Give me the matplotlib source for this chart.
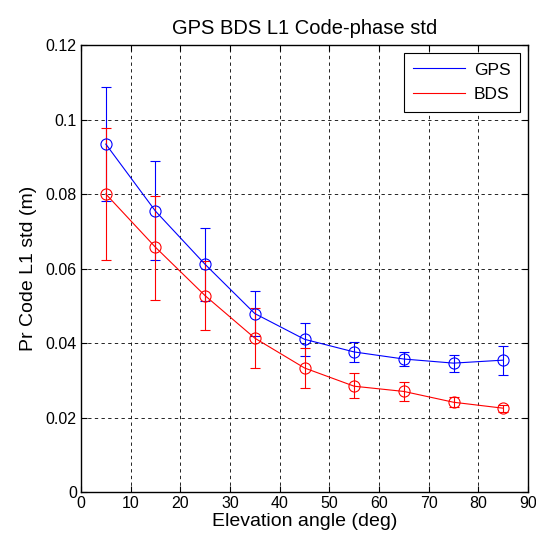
import matplotlib.pyplot as plt
from matplotlib.lines import Line2D

plt.rcParams['font.family'] = ['Liberation Sans', 'DejaVu Sans']

elev = [5, 15, 25, 35, 45, 55, 65, 75, 85]

gps_std = [0.0934, 0.0754, 0.0611, 0.0479, 0.0410, 0.0376, 0.0357, 0.0346, 0.0354]
gps_lo = [0.0780, 0.0622, 0.0514, 0.0419, 0.0364, 0.0348, 0.0339, 0.0323, 0.0315]
gps_hi = [0.1087, 0.0888, 0.0710, 0.0539, 0.0453, 0.0403, 0.0376, 0.0367, 0.0392]

bds_std = [0.0800, 0.0657, 0.0527, 0.0413, 0.0333, 0.0284, 0.0270, 0.0241, 0.0225]
bds_lo = [0.0624, 0.0515, 0.0435, 0.0333, 0.0280, 0.0252, 0.0244, 0.0227, 0.0216]
bds_hi = [0.0977, 0.0796, 0.0619, 0.0495, 0.0387, 0.0319, 0.0294, 0.0254, 0.0234]


def err(mid, lo, hi):
    return [[m - l for m, l in zip(mid, lo)], [h - m for m, h in zip(mid, hi)]]


fig = plt.figure(figsize=(5.36, 5.43), dpi=100)
ax = fig.add_axes([0.1511, 0.0939, 0.834, 0.8232])

handles = []
for mid, lo, hi, col, name in [(gps_std, gps_lo, gps_hi, 'blue', 'GPS'),
                                (bds_std, bds_lo, bds_hi, 'red', 'BDS')]:
    ax.errorbar(elev, mid, yerr=err(mid, lo, hi), color=col, lw=0.8,
                elinewidth=0.8, capsize=3.5, capthick=0.8, marker='o',
                markersize=8, mfc='none', mec=col, mew=0.8)
    handles.append(Line2D([], [], color=col, lw=0.8, label=name))

ax.set_xlim(0, 90)
ax.set_ylim(0, 0.12)
ax.set_xticks(range(0, 91, 10))
ax.set_yticks([0, 0.02, 0.04, 0.06, 0.08, 0.1, 0.12])
ax.set_yticklabels(['0', '0.02', '0.04', '0.06', '0.08', '0.1', '0.12'])
ax.grid(True, color='black', ls=(0, (4, 4)), lw=0.6)
ax.tick_params(direction='in', top=True, right=True, labelsize=11.5,
               length=4, pad=3)
for s in ax.spines.values():
    s.set_linewidth(1.0)

ax.set_xlabel('Elevation angle (deg)', fontsize=14, labelpad=1)
ax.set_ylabel('Pr Code L1 std (m)', fontsize=14, labelpad=6)
ax.set_title('GPS BDS L1 Code-phase std', fontsize=14.5, pad=8)

leg = ax.legend(handles=handles, loc='upper right', fontsize=12.5,
                fancybox=False, framealpha=1, edgecolor='black',
                handlelength=3.0, handletextpad=0.5, borderpad=0.55,
                borderaxespad=0.45, labelspacing=0.55)
leg.get_frame().set_linewidth(0.8)

fig.savefig('out.png', dpi=100)
